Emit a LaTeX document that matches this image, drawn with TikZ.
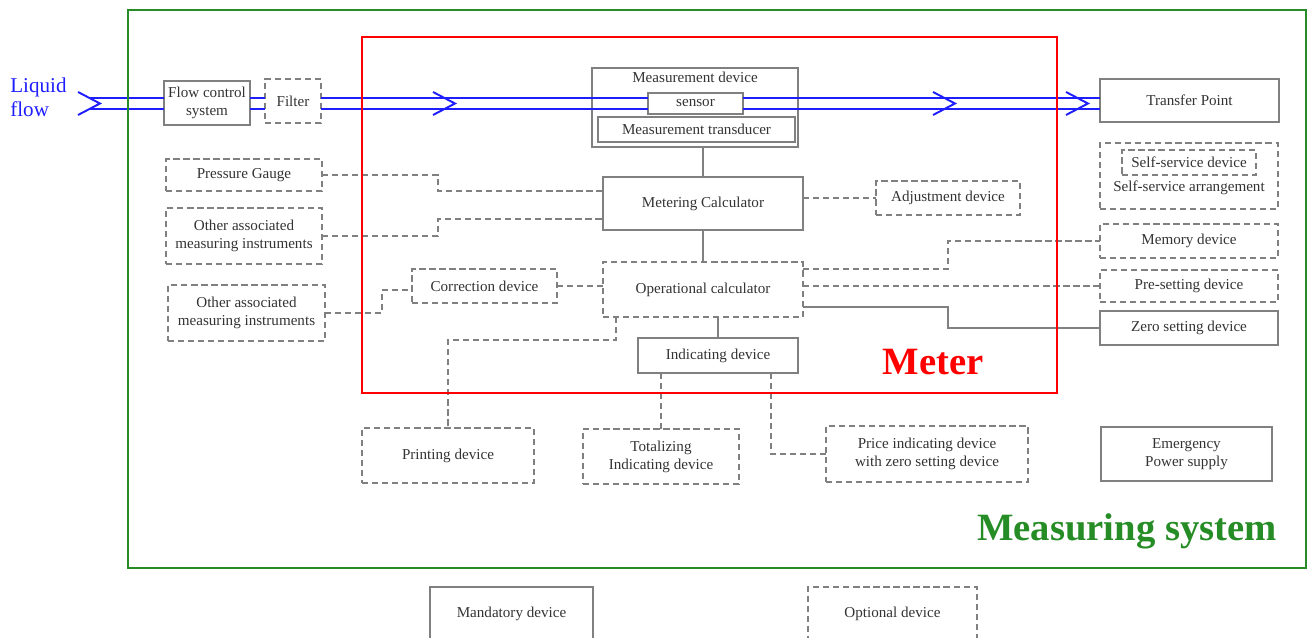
\documentclass[tikz,border=0pt]{standalone}
\usepackage{fontspec}
\setmainfont{Liberation Serif}
\usepackage{tikz}
\usetikzlibrary{positioning}
\definecolor{sysgreen}{RGB}{38,140,38}
\definecolor{flowblue}{RGB}{30,30,255}
\newcommand{\boxfont}{\fontsize{8.6}{10.2}\selectfont}
\newcommand{\bigbold}{\bfseries\fontsize{22}{24}\selectfont}
\tikzset{
    mandatory/.style={
           rectangle,
           draw=black!50, line width=0.6pt,
           inner sep=0pt, outer sep=0pt,
           align=center, text=black!80,
           font=\boxfont,
           },
}
\tikzset{
    optional/.style={
           mandatory,
           dash pattern=on 3.5pt off 2.2pt,
           },
}
\tikzset{
    sz/.style 2 args={minimum width=#1*0.02cm, minimum height=#2*0.02cm},
    link/.style={draw=black!50, line width=0.6pt},
    optlink/.style={link, dash pattern=on 3.5pt off 2.2pt},
    flow/.style={draw=flowblue, line width=1.1pt},
}

\begin{document}
\begin{tikzpicture}[x=0.02cm,y=-0.02cm]
\useasboundingbox (0,0) rectangle (1309,638);
% flow path
\node[text=flowblue,font=\fontsize{12}{13.6}\selectfont,align=left,anchor=west,inner sep=0pt](liquid) at (10,97){Liquid\\flow};
\node[mandatory,sz={86}{44}](flowctl) at (207,103){Flow control\\system};
\node[optional,sz={56}{44}](filter) at (293,101){Filter};
\node[mandatory,sz={206}{79}](measdev) at (695,107.5){};
\node[mandatory,draw=none](meastxt) at (695,77){Measurement device};
\node[mandatory,sz={95}{21}](sensor) at (695.5,103.5){sensor};
\node[mandatory,sz={197}{25}](transducer) at (696.5,129.5){Measurement transducer};
\node[mandatory,sz={179}{43}](transfer) at (1189.5,100.5){Transfer Point};
% meter
\node[mandatory,sz={200}{53}](metcalc) at (703,203.5){Metering Calculator};
\node[optional,sz={144}{34}](adjust) at (948,198){Adjustment device};
\node[optional,sz={200}{55}](opcalc) at (703,289.5){Operational calculator};
\node[mandatory,sz={160}{35}](indic) at (718,355.5){Indicating device};
\node[optional,sz={145}{34}](correct) at (484.5,286){Correction device};
% left column
\node[optional,sz={156}{32}](pressure) at (244,175){Pressure Gauge};
\node[optional,sz={156}{56}](other1) at (244,236){Other associated\\measuring instruments};
\node[optional,sz={157}{56}](other2) at (246.5,313){Other associated\\measuring instruments};
% bottom row
\node[optional,sz={172}{55}](printing) at (448,455.5){Printing device};
\node[optional,sz={156}{55}](totaliz) at (661,456.5){Totalizing\\Indicating device};
\node[optional,sz={202}{56}](price) at (927,454){Price indicating device\\with zero setting device};
\node[mandatory,sz={171}{54}](emerg) at (1186.5,454){Emergency\\Power supply};
% right column
\node[optional,sz={178}{66}](selfarr) at (1189,176){};
\node[optional,sz={134}{25}](selfdev) at (1189,162.5){Self-service device};
\node[mandatory,draw=none](selftxt) at (1189,188){Self-service arrangement};
\node[optional,sz={178}{34}](memory) at (1189,241){Memory device};
\node[optional,sz={178}{32}](preset) at (1189,286){Pre-setting device};
\node[mandatory,sz={178}{34}](zero) at (1189,328){Zero setting device};
% legend
\node[mandatory,sz={163}{54}](mandlgd) at (511.5,614){Mandatory device};
\node[optional,sz={169}{54}](optlgd) at (892.5,614){Optional device};

% liquid lines
\coordinate (inU) at (90,98);
\coordinate (inL) at (90,109);
\foreach \c in {inU,inL}{
  \draw[flow] (\c) -- (flowctl.west |- \c);
  \draw[flow] (flowctl.east |- \c) -- (filter.west |- \c);
  \draw[flow] (filter.east |- \c) -- (sensor.west |- \c);
  \draw[flow] (sensor.east |- \c) -- (transfer.west |- \c);
}
\foreach \t in {100,455,955,1088}
  \draw[flow] (\t-22,92) -- (\t,103.5) -- (\t-22,115);

% connectors
\coordinate (k1) at (438,191);
\coordinate (k2) at (438,219);
\coordinate (k3) at (382,290);
\coordinate (k4) at (616,340);
\coordinate (k5) at (449,340);
\coordinate (k6) at (771,453);
\coordinate (k7) at (948,269);
\coordinate (k8) at (948,307);
\draw[link] (metcalc.north) -- (metcalc.north |- measdev.south);
\draw[link] (metcalc.south) -- (opcalc.north);
\draw[link] (indic.north) -- (indic.north |- opcalc.south);
\draw[optlink] (metcalc.east |- adjust.west) -- (adjust.west);
\draw[optlink] (pressure.east) -| (k1) -- (metcalc.west |- k1);
\draw[optlink] (other1.east) -| (k2) -- (metcalc.west |- k2);
\draw[optlink] (other2.east) -| (k3) -- (correct.west |- k3);
\draw[optlink] (correct.east) -- (opcalc.west |- correct.east);
\draw[optlink] (opcalc.south -| k4) -- (k4) -| (printing.north);
\draw[optlink] (totaliz.north) -- (indic.south -| totaliz.north);
\draw[optlink] (indic.south -| k6) |- (price.west);
\draw[optlink] (opcalc.east |- k7) -- (k7) |- (memory.west);
\draw[optlink] (opcalc.east |- preset.west) -- (preset.west);
\draw[link] (opcalc.east |- k8) -- (k8) |- (zero.west);

% frames
\draw[red,line width=1.6pt] (362,37) rectangle (1057,393);
\draw[sysgreen,line width=1.6pt] (128,10) rectangle (1306,568);
\node[text=red,font=\bigbold](meterlbl) at (933,362){Meter};
\node[text=sysgreen,font=\bigbold](systemlbl) at (1127,531){Measuring system};
\end{tikzpicture}
\end{document}
